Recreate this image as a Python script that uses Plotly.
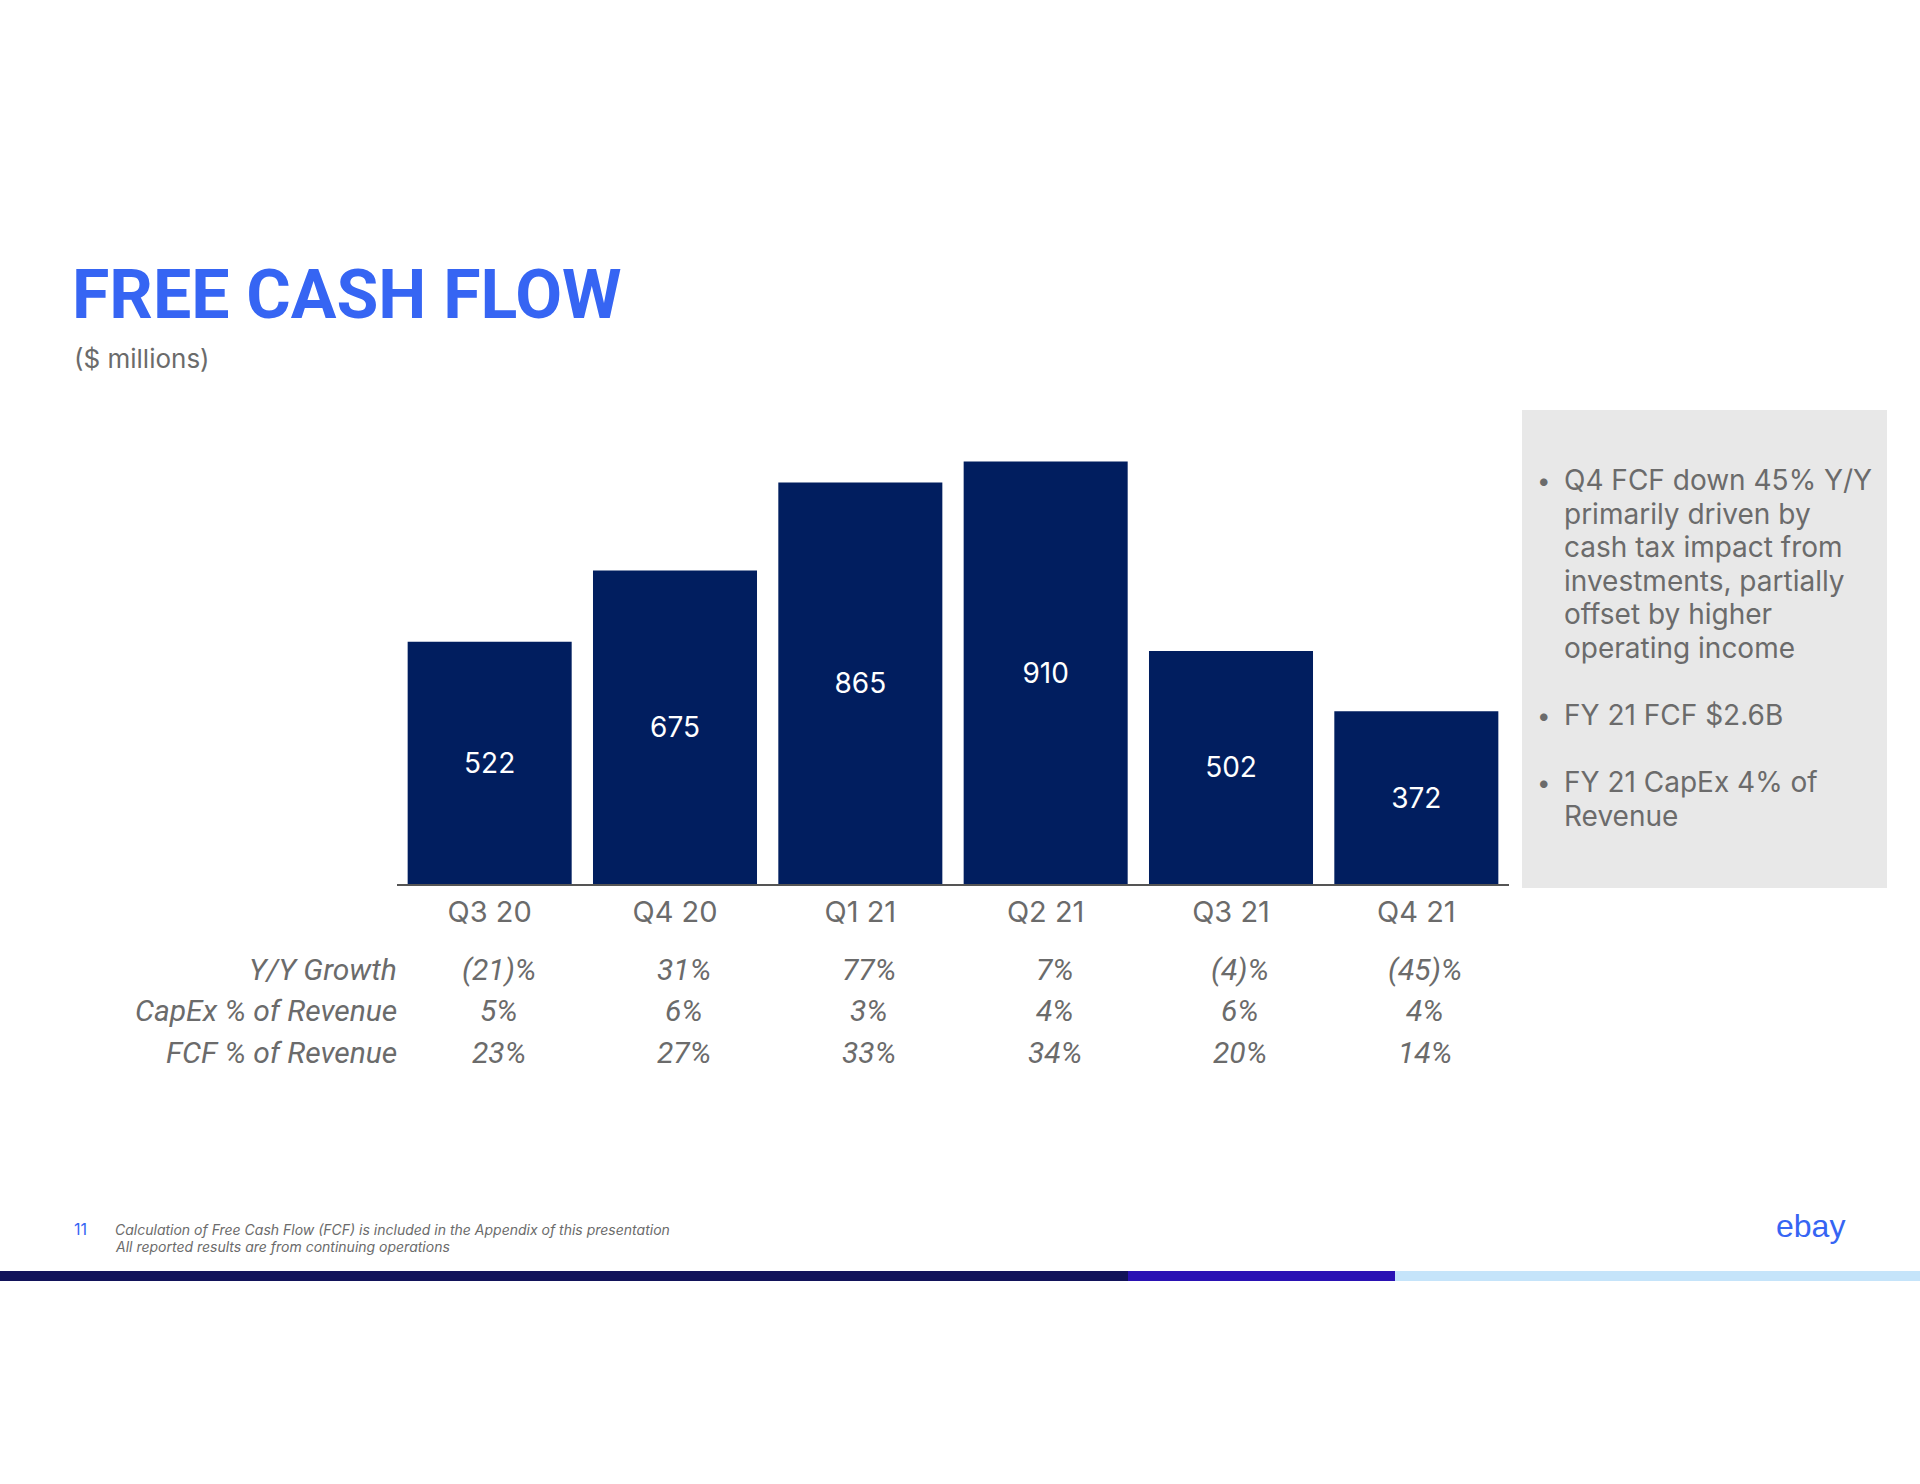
import plotly.graph_objects as go

quarters = ["Q3 20", "Q4 20", "Q1 21", "Q2 21", "Q3 21", "Q4 21"]
fcf = [522, 675, 865, 910, 502, 372]

row_labels = ["Y/Y Growth", "CapEx % of Revenue", "FCF % of Revenue"]
yy_growth = ["(21)%", "31%", "77%", "7%", "(4)%", "(45)%"]
capex_pct = ["5%", "6%", "3%", "4%", "6%", "4%"]
fcf_pct = ["23%", "27%", "33%", "34%", "20%", "14%"]

bullet_lines = [
    ["Q4 FCF down 45% Y/Y", "primarily driven by", "cash tax impact from",
     "investments, partially", "offset by higher", "operating income"],
    ["FY 21 FCF $2.6B"],
    ["FY 21 CapEx 4% of", "Revenue"],
]

footnotes = ["Calculation of Free Cash Flow (FCF) is included in the Appendix of this presentation",
             "All reported results are from continuing operations"]

W, H = 1920, 1484
L, R, T, B = 397, 1509, 400, 884   # plot area in pixels


def px(x):
    return (x - L) / (R - L)


def py(y):
    return (B - y) / (B - T)


BLUE = "#3665F3"
NAVY = "#011E5F"
GREY = "#6b6b6b"
FONT = "Inter"

fig = go.Figure()
fig.add_trace(go.Bar(
    x=quarters, y=fcf, marker_color=NAVY, marker_line_width=0,
    text=[str(v) for v in fcf], textposition="inside", insidetextanchor="middle",
    textangle=0, textfont=dict(color="white", size=28, family=FONT),
    hoverinfo="skip",
))

ann = []
# table rows
for i, (lab, vals) in enumerate(zip(row_labels, [yy_growth, capex_pct, fcf_pct])):
    yy = py(969 + i * 41.5)
    ann.append(dict(text="<i>" + lab + "</i>", xref="paper", yref="paper", x=0, y=yy,
                    xanchor="right", yanchor="middle", showarrow=False, xshift=2,
                    font=dict(size=30, color=GREY, family="Roboto")))
    for q, v in zip(quarters, vals):
        ann.append(dict(text="<i>" + v + "</i>", xref="x", yref="paper", x=q, y=yy,
                        xanchor="center", yanchor="middle", showarrow=False, xshift=9,
                        font=dict(size=30, color=GREY, family="Roboto")))

# title
ann.append(dict(text="<b>FREE CASH FLOW</b>", xref="paper", yref="paper", x=px(70), y=py(295),
                xanchor="left", yanchor="middle", showarrow=False,
                font=dict(size=68, color=BLUE, family="Roboto")))
ann.append(dict(text="($ millions)", xref="paper", yref="paper", x=px(72), y=py(358),
                xanchor="left", yanchor="middle", showarrow=False,
                font=dict(size=26, color=GREY, family=FONT)))

# bullets in grey box
line_y = 480
for group in bullet_lines:
    ann.append(dict(text="•", xref="paper", yref="paper", x=px(1535), y=py(line_y),
                    xanchor="left", yanchor="middle", showarrow=False,
                    font=dict(size=24, color=GREY, family=FONT)))
    for line in group:
        ann.append(dict(text=line, xref="paper", yref="paper", x=px(1562), y=py(line_y),
                        xanchor="left", yanchor="middle", showarrow=False,
                        font=dict(size=28, color=GREY, family=FONT)))
        line_y += 33.6
    line_y += 33.6

# footer
ann.append(dict(text="11", xref="paper", yref="paper", x=px(72), y=py(1229),
                xanchor="left", yanchor="middle", showarrow=False,
                font=dict(size=16, color=BLUE, family=FONT)))
for i, f in enumerate(footnotes):
    ann.append(dict(text="<i>" + f + "</i>", xref="paper", yref="paper", x=px(113), y=py(1229 + i * 17.5),
                    xanchor="left", yanchor="middle", showarrow=False,
                    font=dict(size=14, color=GREY, family=FONT)))
ann.append(dict(text="ebay", xref="paper", yref="paper", x=px(1847), y=py(1226),
                xanchor="right", yanchor="middle", showarrow=False,
                font=dict(size=32, color=BLUE, family="Liberation Sans")))

shapes = [
    dict(type="rect", xref="paper", yref="paper", x0=px(1522), x1=px(1887), y0=py(888), y1=py(410),
         fillcolor="#e8e8e8", line_width=0, layer="below"),
    dict(type="rect", xref="paper", yref="paper", x0=px(0), x1=px(1128), y0=py(1281), y1=py(1271),
         fillcolor="#12135a", line_width=0),
    dict(type="rect", xref="paper", yref="paper", x0=px(1128), x1=px(1395), y0=py(1281), y1=py(1271),
         fillcolor="#2a12b4", line_width=0),
    dict(type="rect", xref="paper", yref="paper", x0=px(1395), x1=px(1920), y0=py(1281), y1=py(1271),
         fillcolor="#c5e4fa", line_width=0),
]

fig.update_layout(
    width=W, height=H, autosize=False,
    margin=dict(l=L, r=W - R, t=T, b=H - B, pad=0),
    paper_bgcolor="white", plot_bgcolor="white",
    bargap=0.115, showlegend=False,
    annotations=ann, shapes=shapes,
    xaxis=dict(showline=True, linecolor="#555555", linewidth=1.5, ticks="",
               tickfont=dict(size=29, color=GREY, family=FONT), showgrid=False,
               ticklabelstandoff=1, fixedrange=True),
    yaxis=dict(range=[0, (B - T) / 0.4643], visible=False, fixedrange=True),
)

fig.write_html("out.html", config={"displayModeBar": False},
               post_script="document.body.style.margin='0';")
